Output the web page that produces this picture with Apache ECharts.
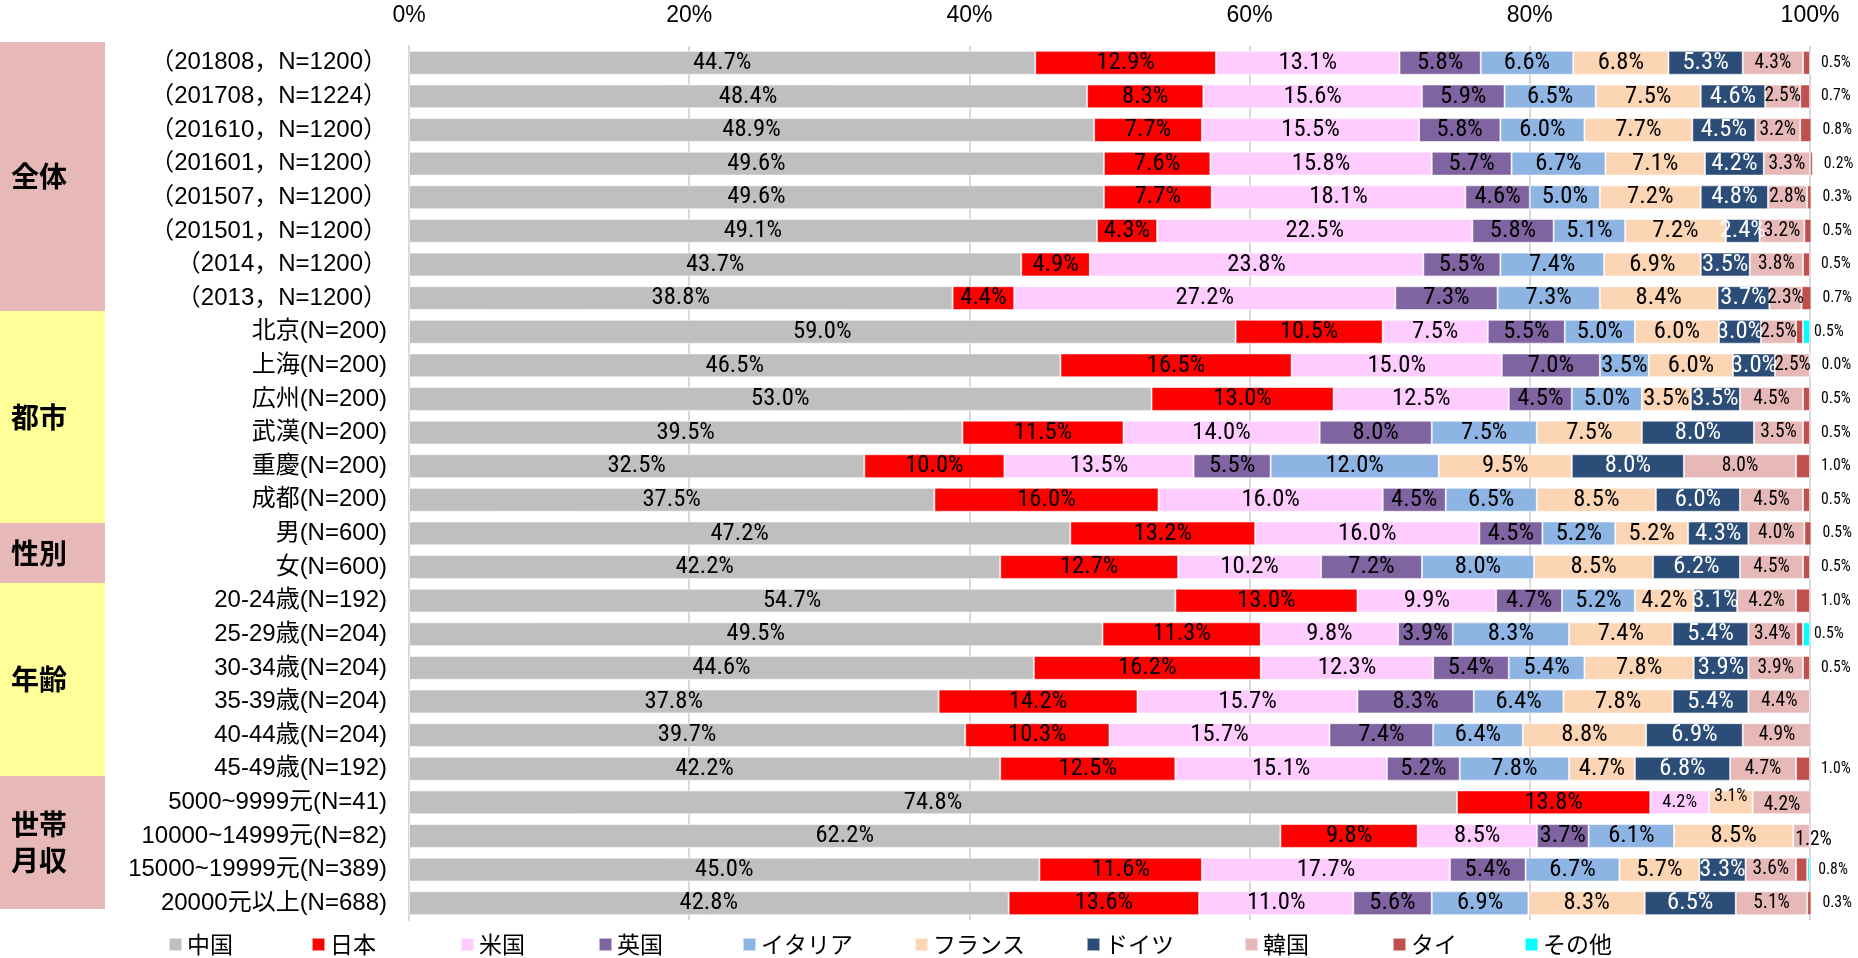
<!DOCTYPE html>
<html>
<head>
<meta charset="utf-8">
<script src="https://cdn.jsdelivr.net/npm/echarts@6/dist/echarts.min.js"></script>
<style>
html,body{margin:0;padding:0;background:#fff;}
#chart{width:1858px;height:958px;}
</style>
</head>
<body>
<div id="chart"></div>
<script>
// ---- data ----
const categories = [
  '（201808，N=1200）','（201708，N=1224）','（201610，N=1200）','（201601，N=1200）',
  '（201507，N=1200）','（201501，N=1200）','（2014，N=1200）','（2013，N=1200）',
  '北京(N=200)','上海(N=200)','広州(N=200)','武漢(N=200)','重慶(N=200)','成都(N=200)',
  '男(N=600)','女(N=600)',
  '20-24歳(N=192)','25-29歳(N=204)','30-34歳(N=204)','35-39歳(N=204)','40-44歳(N=204)','45-49歳(N=192)',
  '5000~9999元(N=41)','10000~14999元(N=82)','15000~19999元(N=389)','20000元以上(N=688)'
];
const seriesNames = ['中国','日本','米国','英国','イタリア','フランス','ドイツ','韓国','タイ','その他'];

const china   = [44.7,48.4,48.9,49.6,49.6,49.1,43.7,38.8,59.0,46.5,53.0,39.5,32.5,37.5,47.2,42.2,54.7,49.5,44.6,37.8,39.7,42.2,74.8,62.2,45.0,42.8];
const japan   = [12.9,8.3,7.7,7.6,7.7,4.3,4.9,4.4,10.5,16.5,13.0,11.5,10.0,16.0,13.2,12.7,13.0,11.3,16.2,14.2,10.3,12.5,13.8,9.8,11.6,13.6];
const usa     = [13.1,15.6,15.5,15.8,18.1,22.5,23.8,27.2,7.5,15.0,12.5,14.0,13.5,16.0,16.0,10.2,9.9,9.8,12.3,15.7,15.7,15.1,4.2,8.5,17.7,11.0];
const uk      = [5.8,5.9,5.8,5.7,4.6,5.8,5.5,7.3,5.5,7.0,4.5,8.0,5.5,4.5,4.5,7.2,4.7,3.9,5.4,8.3,7.4,5.2,null,3.7,5.4,5.6];
const italy   = [6.6,6.5,6.0,6.7,5.0,5.1,7.4,7.3,5.0,3.5,5.0,7.5,12.0,6.5,5.2,8.0,5.2,8.3,5.4,6.4,6.4,7.8,null,6.1,6.7,6.9];
const france  = [6.8,7.5,7.7,7.1,7.2,7.2,6.9,8.4,6.0,6.0,3.5,7.5,9.5,8.5,5.2,8.5,4.2,7.4,7.8,7.8,8.8,4.7,3.1,8.5,5.7,8.3];
const germany = [5.3,4.6,4.5,4.2,4.8,2.4,3.5,3.7,3.0,3.0,3.5,8.0,8.0,6.0,4.3,6.2,3.1,5.4,3.9,5.4,6.9,6.8,null,null,3.3,6.5];
const korea   = [4.3,2.5,3.2,3.3,2.8,3.2,3.8,2.3,2.5,2.5,4.5,3.5,8.0,4.5,4.0,4.5,4.2,3.4,3.9,4.4,4.9,4.7,4.2,1.2,3.6,5.1];
const thai    = [0.5,0.7,0.8,0.2,0.3,0.5,0.5,0.7,0.5,0.0,0.5,0.5,1.0,0.5,0.5,0.5,1.0,0.5,0.5,null,null,1.0,null,null,0.8,0.3];
const other   = [0.1,null,null,null,null,null,null,null,0.5,null,null,null,null,null,null,0.1,null,0.5,null,null,null,null,null,null,0.2,null];
const xTicks  = [0,20,40,60,80,100];

// ---- fonts ----
const ctx = document.createElement('canvas').getContext('2d');
function measure(font, text) { ctx.font = font; return ctx.measureText(text).width; }
function installed(fam) {
  const s = 'abcdefghij0123456789%';
  return measure(`40px '${fam}', monospace`, s) !== measure('40px monospace', s) ||
         measure(`40px '${fam}', serif`, s) !== measure('40px serif', s);
}
const narrowFam = ['Liberation Sans Narrow', 'Roboto Condensed', 'Arial Narrow'].find(installed);
const numFam = narrowFam || 'Roboto';
const numFont = `'${numFam}','Noto Sans CJK JP',sans-serif`;
const k = narrowFam ? Math.max(20, Math.min(26, 24 * 58.5 / measure(`24px ${numFont}`, '10.5%'))) : 23;
const catFont = "'Liberation Sans','Noto Sans CJK JP',sans-serif";
const cjkFont = "'Noto Sans CJK JP','Liberation Sans',sans-serif";

// ---- style ----
const seriesValues = [china,japan,usa,uk,italy,france,germany,korea,thai,other];
const colors = ['#BFBFBF','#FF0000','#FFCCFF','#8064A2','#8DB4E2','#FCD5B4','#2C4D77','#E6B9B8','#C0504D','#00FFFF'];
const labelSizes = [k,k,k,k,k,k,k,0.79*k,0.64*k,0];
const labelColors = ['#000','#000','#000','#000','#000','#000','#fff','#000','#000','#000'];
const labelTweaks = {
  '米国|22': {fontSize: 0.75 * k},
  'フランス|22': {fontSize: 0.72 * k, offset: [0, -6]},
  '韓国|22': {offset: [0, 3]},
  '韓国|23': {offset: [12, 4]}
};
const legendLefts = [163, 306, 455, 593, 737, 909, 1081, 1239, 1387, 1519];

const fmt = p => (p.value == null ? '' : Number(p.value).toFixed(1) + '%');

const series = seriesNames.map((name, si) => ({
  name: name,
  type: 'bar',
  stack: 'total',
  clip: false,
  barCategoryGap: '29%',
  itemStyle: {color: colors[si], borderColor: 'rgba(255,255,255,0.55)', borderWidth: 1},
  emphasis: {disabled: true},
  label: {
    show: si !== 9,
    position: si === 8 ? 'right' : 'inside',
    distance: 11,
    formatter: fmt,
    color: labelColors[si],
    fontSize: labelSizes[si],
    fontFamily: numFont
  },
  data: seriesValues[si].map((v, ri) => {
    const t = labelTweaks[name + '|' + ri];
    return t ? {value: v, label: t} : v;
  })
}));

const boxes = [
  {y0: 42, y1: 311, color: '#E6B9B8', text: '全体'},
  {y0: 311, y1: 523, color: '#FFFF99', text: '都市'},
  {y0: 523, y1: 583, color: '#E6B9B8', text: '性別'},
  {y0: 583, y1: 776, color: '#FFFF99', text: '年齢'},
  {y0: 776, y1: 909, color: '#E6B9B8', text: '世帯\n月収'}
];
const graphic = [];
boxes.forEach(b => {
  graphic.push({type: 'rect', left: 0, top: b.y0, shape: {width: 105, height: b.y1 - b.y0}, style: {fill: b.color}, silent: true});
  graphic.push({type: 'text', left: 11, top: (b.y0 + b.y1) / 2 - (b.text.indexOf('\n') >= 0 ? 36 : 18),
    style: {text: b.text, fill: '#000', font: "bold 28px 'Noto Sans CJK JP'", lineHeight: 36}, silent: true});
});

const legends = seriesNames.map((n, i) => ({
  left: legendLefts[i], top: 928, itemWidth: 13, itemHeight: 13, icon: 'rect',
  selectedMode: false, data: [n],
  textStyle: {fontSize: 23, color: '#000', fontFamily: cjkFont}
}));

const chart = echarts.init(document.getElementById('chart'), null, {renderer: 'canvas'});
chart.setOption({
  animation: false,
  color: colors,
  grid: {left: 409, right: 48, top: 46, bottom: 38, containLabel: false},
  xAxis: {
    type: 'value', position: 'top', min: 0, max: 100, interval: 20,
    axisLine: {show: false}, axisTick: {show: false},
    axisLabel: {formatter: v => xTicks.indexOf(v) >= 0 ? v + '%' : '', fontSize: 23, color: '#000', fontFamily: catFont, margin: 19},
    splitLine: {show: true, lineStyle: {color: '#D9D9D9', width: 2}}
  },
  yAxis: {
    type: 'category', inverse: true, data: categories,
    axisLine: {show: true, lineStyle: {color: '#D9D9D9', width: 2}},
    axisTick: {show: false},
    axisLabel: {fontSize: 24, color: '#000', fontFamily: catFont, margin: 22}
  },
  legend: legends,
  graphic: graphic,
  series: series
});
</script>
</body>
</html>
